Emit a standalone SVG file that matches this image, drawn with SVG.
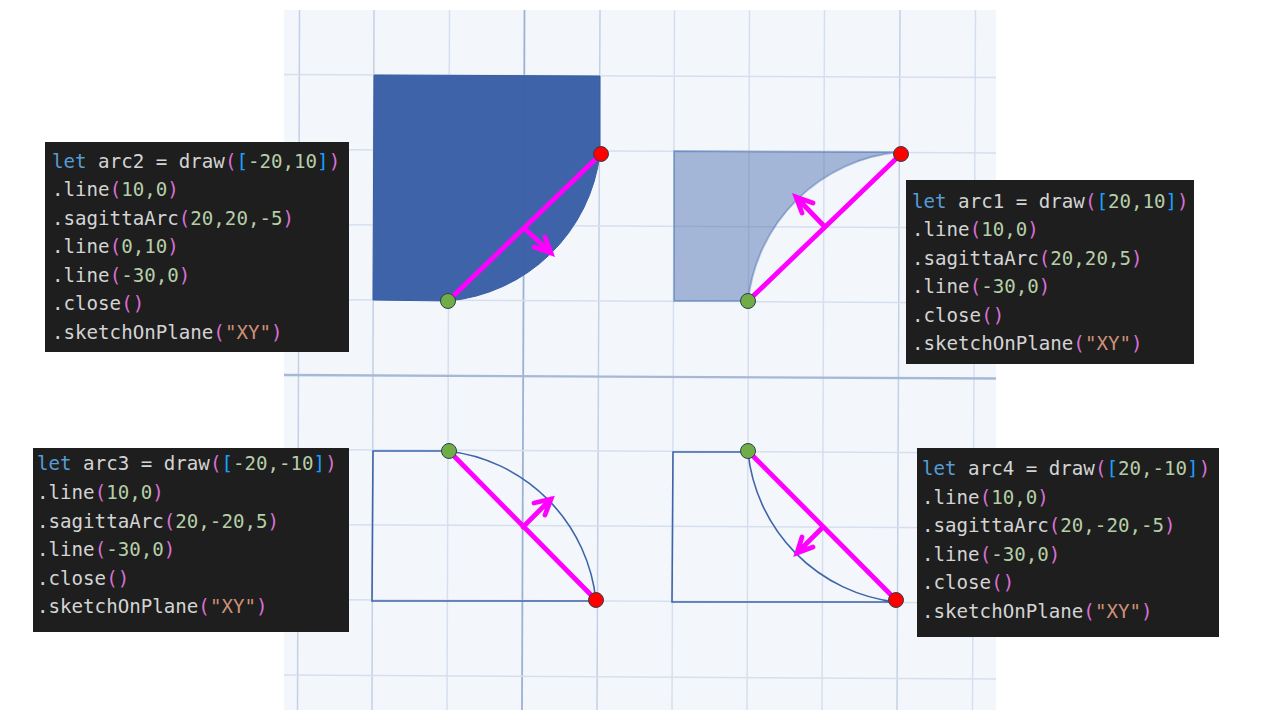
<svg xmlns="http://www.w3.org/2000/svg" width="1280" height="720" viewBox="0 0 1280 720">
<style>
.grid{stroke:#d6dfed;stroke-width:1.5;fill:none}
.gridm{stroke:#c3d0e5;stroke-width:1.5;fill:none}
.gridd{stroke:#9db1d4;stroke-width:1.8;fill:none}
.axis{stroke:#a6b8d8;stroke-width:2.4;fill:none}
.solid{fill:#385ea5;fill-opacity:.97;stroke:#385ea5;stroke-width:1}
.pale{fill:#3e64a9;fill-opacity:.44;stroke:#3e64a9;stroke-opacity:.4;stroke-width:2}
.outline{fill:none;stroke:#3e64a9;stroke-width:1.6}
.mag{stroke:#ff00ff;stroke-width:4.8;fill:none;stroke-linecap:round;stroke-linejoin:miter}
.start{fill:#70ad47;stroke:#2f4050;stroke-width:1}
.end{fill:#ff0000;stroke:#2f4050;stroke-width:1}
.box{fill:#1e1e1e}
.code{font-family:"DejaVu Sans Mono","Liberation Mono",monospace;font-size:19.15px;fill:#d4d4d4}
.k{fill:#569cd6}.n{fill:#b5cea8}.p{fill:#da70d6}.b{fill:#179fff}.s{fill:#ce9178}
</style>
<rect width="1280" height="720" fill="#ffffff"/>
<g id="grid">
<rect x="284" y="10" width="712" height="700" fill="#f3f7fc"/>
<path class="grid" d="M449.500 10L447 710M674.500 10L672 710M749.500 10L747 710M824.500 10L822 710M975.500 10L972.500 710"/>
<path class="gridm" d="M299.500 10L297.500 710M374 10L372 710M600 10L597 710M900 10L897 710"/>
<path class="gridd" d="M524.500 10L522 710"/>
<path class="grid" d="M284 74.500L996 77.500M284 149.500L996 153M284 224.500L996 228M284 299.500L996 303M284 449.500L996 453M284 524.500L996 528M284 599.500L996 603M284 675L996 679"/>
<path class="axis" d="M284 375L996 378.500"/>
</g>
<g id="shape-arc2"><path class="solid" d="M374 75L600 76L600 153A168 168 0 0 1 448 301L373 300Z"/></g>
<g id="shape-arc1"><path class="pale" d="M674 151L899 152A168 168 0 0 0 748 301L674 301Z"/></g>
<g id="shape-arc3"><path class="outline" d="M373 451L447 451A168 168 0 0 1 596 601L372 601Z"/></g>
<g id="shape-arc4"><path class="outline" d="M673 452L748 452A168 168 0 0 0 896 602L672 602Z"/></g>
<g id="connectors">
<path class="mag" d="M448 301L601 154M524 228L551 253M534 247L551 253L545 237"/>
<path class="mag" d="M748 301L901 154M825 227L796 197M813 203L796 197L802 213"/>
<path class="mag" d="M449 451L596 600M523 527L551 499M534 503L551 499L545 515"/>
<path class="mag" d="M748 451L896 600M822 528L797 553M802 537L797 553L813 547"/>
</g>
<g id="points">
<circle class="start" cx="448" cy="301" r="7.500"/><circle class="end" cx="601" cy="154" r="7.500"/>
<circle class="start" cx="748" cy="301" r="7.500"/><circle class="end" cx="901" cy="154" r="7.500"/>
<circle class="start" cx="449" cy="451" r="7.500"/><circle class="end" cx="596" cy="600" r="7.500"/>
<circle class="start" cx="748" cy="451" r="7.500"/><circle class="end" cx="896" cy="600" r="7.500"/>
</g>
<g id="code-arc2">
<rect class="box" x="45" y="142" width="304" height="210"/>
<text class="code" x="52" y="168"><tspan class="k">let</tspan> arc2 = draw<tspan class="p">(</tspan><tspan class="b">[</tspan><tspan class="n">-20,10</tspan><tspan class="b">]</tspan><tspan class="p">)</tspan></text>
<text class="code" x="52" y="196">.line<tspan class="p">(</tspan><tspan class="n">10,0</tspan><tspan class="p">)</tspan></text>
<text class="code" x="52" y="225">.sagittaArc<tspan class="p">(</tspan><tspan class="n">20,20,-5</tspan><tspan class="p">)</tspan></text>
<text class="code" x="52" y="253">.line<tspan class="p">(</tspan><tspan class="n">0,10</tspan><tspan class="p">)</tspan></text>
<text class="code" x="52" y="282">.line<tspan class="p">(</tspan><tspan class="n">-30,0</tspan><tspan class="p">)</tspan></text>
<text class="code" x="52" y="310">.close<tspan class="p">()</tspan></text>
<text class="code" x="52" y="339">.sketchOnPlane<tspan class="p">(</tspan><tspan class="s">"XY"</tspan><tspan class="p">)</tspan></text>
</g>
<g id="code-arc1">
<rect class="box" x="906" y="180" width="288" height="184"/>
<text class="code" x="912" y="208"><tspan class="k">let</tspan> arc1 = draw<tspan class="p">(</tspan><tspan class="b">[</tspan><tspan class="n">20,10</tspan><tspan class="b">]</tspan><tspan class="p">)</tspan></text>
<text class="code" x="912" y="236">.line<tspan class="p">(</tspan><tspan class="n">10,0</tspan><tspan class="p">)</tspan></text>
<text class="code" x="912" y="265">.sagittaArc<tspan class="p">(</tspan><tspan class="n">20,20,5</tspan><tspan class="p">)</tspan></text>
<text class="code" x="912" y="293">.line<tspan class="p">(</tspan><tspan class="n">-30,0</tspan><tspan class="p">)</tspan></text>
<text class="code" x="912" y="322">.close<tspan class="p">()</tspan></text>
<text class="code" x="912" y="350">.sketchOnPlane<tspan class="p">(</tspan><tspan class="s">"XY"</tspan><tspan class="p">)</tspan></text>
</g>
<g id="code-arc3">
<rect class="box" x="33" y="448" width="316" height="184"/>
<text class="code" x="37" y="470"><tspan class="k">let</tspan> arc3 = draw<tspan class="p">(</tspan><tspan class="b">[</tspan><tspan class="n">-20,-10</tspan><tspan class="b">]</tspan><tspan class="p">)</tspan></text>
<text class="code" x="37" y="499">.line<tspan class="p">(</tspan><tspan class="n">10,0</tspan><tspan class="p">)</tspan></text>
<text class="code" x="37" y="528">.sagittaArc<tspan class="p">(</tspan><tspan class="n">20,-20,5</tspan><tspan class="p">)</tspan></text>
<text class="code" x="37" y="556">.line<tspan class="p">(</tspan><tspan class="n">-30,0</tspan><tspan class="p">)</tspan></text>
<text class="code" x="37" y="585">.close<tspan class="p">()</tspan></text>
<text class="code" x="37" y="613">.sketchOnPlane<tspan class="p">(</tspan><tspan class="s">"XY"</tspan><tspan class="p">)</tspan></text>
</g>
<g id="code-arc4">
<rect class="box" x="917" y="448" width="302" height="189"/>
<text class="code" x="922" y="475"><tspan class="k">let</tspan> arc4 = draw<tspan class="p">(</tspan><tspan class="b">[</tspan><tspan class="n">20,-10</tspan><tspan class="b">]</tspan><tspan class="p">)</tspan></text>
<text class="code" x="922" y="504">.line<tspan class="p">(</tspan><tspan class="n">10,0</tspan><tspan class="p">)</tspan></text>
<text class="code" x="922" y="532">.sagittaArc<tspan class="p">(</tspan><tspan class="n">20,-20,-5</tspan><tspan class="p">)</tspan></text>
<text class="code" x="922" y="561">.line<tspan class="p">(</tspan><tspan class="n">-30,0</tspan><tspan class="p">)</tspan></text>
<text class="code" x="922" y="589">.close<tspan class="p">()</tspan></text>
<text class="code" x="922" y="618">.sketchOnPlane<tspan class="p">(</tspan><tspan class="s">"XY"</tspan><tspan class="p">)</tspan></text>
</g>
</svg>
